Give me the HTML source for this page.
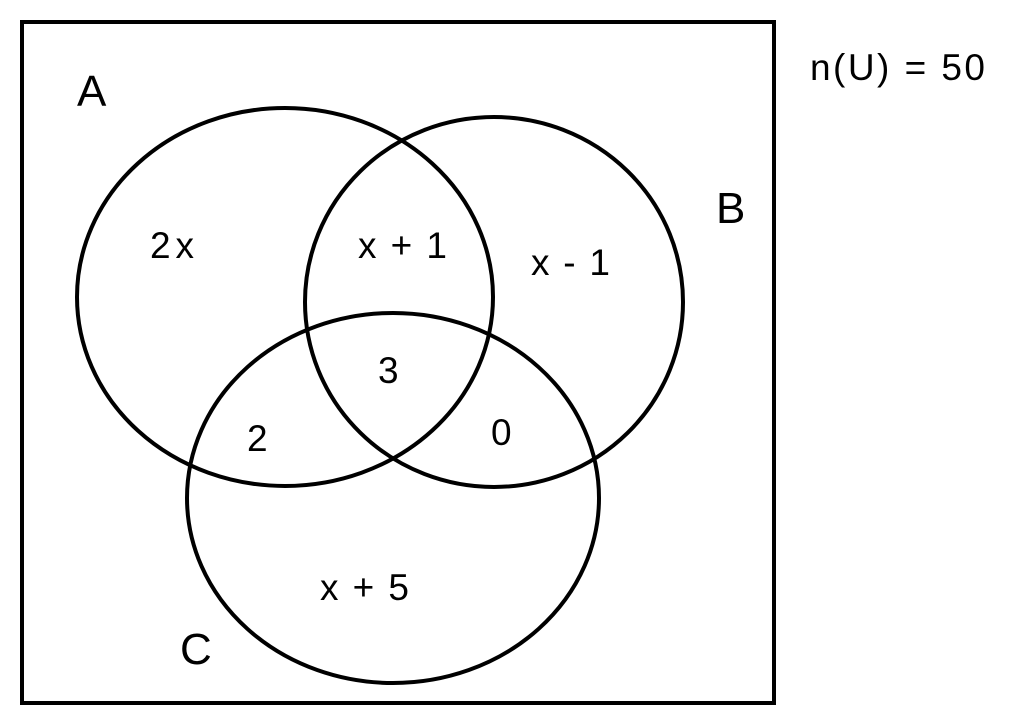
<!DOCTYPE html>
<html><head><style>
html,body{margin:0;padding:0;background:#fff;}
svg{display:block;}
text{font-family:"Liberation Sans",sans-serif;fill:#000;}
</style></head><body>
<svg width="1021" height="718" viewBox="0 0 1021 718" xmlns="http://www.w3.org/2000/svg">
<rect x="22" y="22" width="752" height="681" fill="none" stroke="#000" stroke-width="4"/>
<ellipse cx="285" cy="297" rx="208" ry="189" fill="none" stroke="#000" stroke-width="4"/>
<ellipse cx="494" cy="302" rx="189" ry="185" fill="none" stroke="#000" stroke-width="4"/>
<ellipse cx="393" cy="498" rx="206" ry="185" fill="none" stroke="#000" stroke-width="4"/>
<text x="77" y="106" font-size="44">A</text>
<text x="716" y="223" font-size="44">B</text>
<text x="180" y="664" font-size="44">C</text>
<text x="810" y="80" font-size="37" textLength="175">n(U) = 50</text>
<text x="150" y="258" font-size="37" textLength="44">2x</text>
<text x="358" y="258" font-size="37" textLength="89">x + 1</text>
<text x="531" y="275" font-size="37" textLength="79">x - 1</text>
<text x="378" y="383" font-size="37">3</text>
<text x="247" y="451" font-size="37">2</text>
<text x="491" y="445" font-size="37">0</text>
<text x="320" y="600" font-size="37" textLength="89">x + 5</text>
</svg>
</body></html>
